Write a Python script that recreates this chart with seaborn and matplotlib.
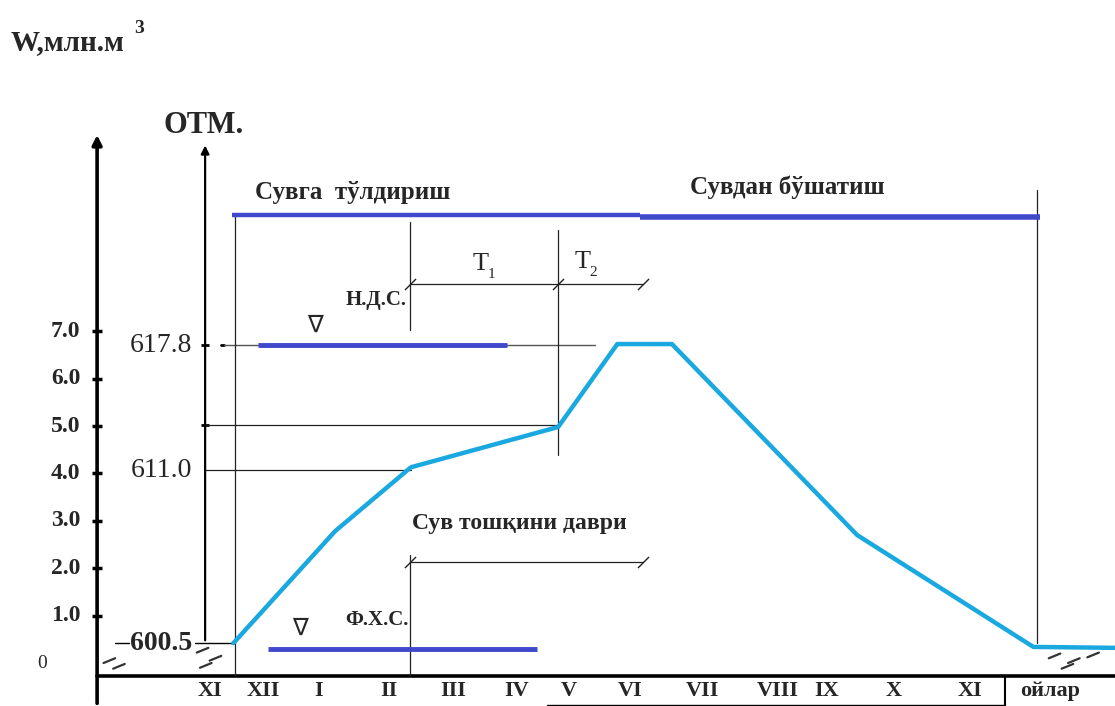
import matplotlib
matplotlib.use('Agg')
import matplotlib.pyplot as plt
import pandas as pd
import seaborn as sns

# --- data (time in months from the W axis, W in mln m3) ---
months = ['XI', 'XII', 'I', 'II', 'III', 'IV', 'V', 'VI', 'VII', 'VIII', 'IX', 'X', 'XI']
month_pos = [1.76, 2.58, 3.44, 4.53, 5.54, 6.53, 7.33, 8.29, 9.42, 10.59, 11.34, 12.38, 13.58]

w_ticks = [0, 1, 2, 3, 4, 5, 6, 7]
w_tick_labels = ['0', '1.0', '2.0', '3.0', '4.0', '5.0', '6.0', '7.0']

# reservoir volume curve
curve_t = [2.12, 3.70, 4.88, 7.17, 8.09, 8.94, 11.82, 14.56, 15.83]
curve_w = [0.42, 2.78, 4.13, 4.98, 6.73, 6.73, 2.70, 0.34, 0.32]

# water levels (ОТМ.) and the volume they correspond to
level_labels = ['600.5', '611.0', '617.8']
level_w = [0.42, 4.07, 6.71]
w_at_v = 5.02  # volume at the end of T1

# phase boundaries: fill start, flood start, T1/T2, fill end, release end
t_fill_start = 2.15
t_flood = 4.87
t_t1_end = 7.17
t_fill_end = 8.44
t_release_end = 14.62

BLUE = '#4048CC'
CYAN = '#1AA8E0'
SERIF = 'Liberation Serif'

sns.set_style('white')
plt.rcParams['font.family'] = [SERIF, 'DejaVu Serif']

fig = plt.figure(figsize=(11.15, 7.06), dpi=100)
ax = fig.add_axes([0, 0, 1, 1])
ax.set_xlim(-1.51, 15.83)
ax.set_ylim(-0.907, 13.99)
ax.axis('off')

def hline(y, x0, x1, **kw):
    ax.plot([x0, x1], [y, y], **kw)

def vline(x, y0, y1, **kw):
    ax.plot([x, x], [y0, y1], **kw)

thin = dict(color='#222222', lw=0.9)
y_base = -0.27
y_top = 9.45

# main W axis and OTM axis with arrows
ax.annotate('', xy=(0, 11.2), xytext=(0, -0.91),
            arrowprops=dict(arrowstyle='-|>', lw=2.6, color='black', mutation_scale=14))
ax.annotate('', xy=(1.68, 10.98), xytext=(1.68, level_w[0]),
            arrowprops=dict(arrowstyle='-|>', lw=1.6, color='black', mutation_scale=12))
hline(y_base, 0, 15.83, color='black', lw=2.6)

# W ticks and labels
ax.scatter([0] * len(w_ticks[1:]), w_ticks[1:], marker='_', s=60, color='black', lw=2.5, zorder=3)
for w, lab in zip(w_ticks, w_tick_labels):
    if lab == '0':
        ax.text(-0.85, w, lab, ha='center', va='center', fontsize=14)
    else:
        ax.text(-0.26, w, lab, ha='right', va='center', fontsize=17, fontweight='bold')

# level labels on the OTM axis
for lab, w in zip(level_labels, level_w):
    bold = lab == '600.5'
    ax.text(1.48, w, lab, ha='right', va='center', fontsize=20,
            fontweight='bold' if bold else 'normal')
ax.scatter([1.68, 1.68], [level_w[2], w_at_v], marker='_', s=40, color='black', lw=2)
hline(level_w[2], 1.92, 1.97, color='black', lw=2)
hline(level_w[0], 0.28, 0.5, color='black', lw=1)
hline(level_w[0], 1.52, t_fill_start, color='black', lw=1)

# horizontal guide lines
hline(w_at_v, 1.68, t_t1_end, **thin)
hline(level_w[1], 1.68, curve_t[2], **thin)
hline(level_w[2], 1.97, 7.74, color='#555555', lw=1)

# vertical guide lines
vline(t_fill_start, y_base, y_top, **thin)
vline(t_release_end, level_w[0], 9.98, **thin)
vline(t_flood, 7.03, 9.30, **thin)
vline(t_flood, y_base, 2.28, **thin)
vline(t_t1_end, 4.39, 9.14, **thin)

# dimension lines T1/T2 and flood period
slash = [(-1, -1), (1, 1)]
hline(8.0, t_flood, 8.49, **thin)
ax.plot([t_flood, t_t1_end, 8.49], [8.0] * 3, ls='none', marker=slash, ms=8, mew=1, color='#222222')
hline(2.13, t_flood, 8.49, **thin)
ax.plot([t_flood, 8.49], [2.13] * 2, ls='none', marker=slash, ms=8, mew=1, color='#222222')

# top phase bar
hline(y_top, 2.10, t_fill_end, color=BLUE, lw=3.2, solid_capstyle='butt')
hline(9.41, t_fill_end, 14.67, color=BLUE, lw=4.0, solid_capstyle='butt')

# НДС and ФХС levels
hline(level_w[2], 2.50, 6.38, color=BLUE, lw=3.5, solid_capstyle='butt')
hline(0.30, 2.66, 6.84, color=BLUE, lw=3.5, solid_capstyle='butt')

# ground hatch marks
for x0, y0 in [(0.1, 0.0), (0.25, -0.12), (1.55, 0.22), (1.75, 0.05), (1.6, -0.1),
               (14.8, 0.1), (15.1, 0.0), (15.4, 0.12), (15.0, -0.12)]:
    ax.plot([x0, x0 + 0.18], [y0, y0 + 0.1], color='#333333', lw=1.6)

# volume curve
df = pd.DataFrame({'t': curve_t, 'W': curve_w})
sns.lineplot(data=df, x='t', y='W', ax=ax, color='black', lw=1.2, sort=False)
sns.lineplot(data=df, x='t', y='W', ax=ax, color=CYAN, lw=3.2, sort=False)

# month labels and box
for m, p in zip(months, month_pos):
    ax.text(p, -0.6, m, ha='center', va='center', fontsize=16, fontweight='bold')
vline(14.12, -0.91, y_base, color='black', lw=1.5)
hline(-0.89, 7.0, 14.12, color='black', lw=1)
ax.text(14.82, -0.6, 'ойлар', ha='center', va='center', fontsize=16, fontweight='bold')

# texts
ax.text(-1.35, 13.1, 'W,млн.м', ha='left', va='center', fontsize=21, fontweight='bold')
ax.text(0.58, 13.38, '3', ha='left', va='center', fontsize=14, fontweight='bold')
ax.text(1.03, 11.35, 'ОТМ.', ha='left', va='center', fontsize=22, fontweight='bold')
ax.text(2.46, 9.92, 'Сувга  тўлдириш', ha='left', va='center', fontsize=18, fontweight='bold')
ax.text(9.22, 10.04, 'Сувдан бўшатиш', ha='left', va='center', fontsize=18, fontweight='bold')
ax.text(5.96, 8.42, 'T', ha='center', va='center', fontsize=19)
ax.text(6.14, 8.2, '1', ha='center', va='center', fontsize=11)
ax.text(7.55, 8.47, 'T', ha='center', va='center', fontsize=19)
ax.text(7.72, 8.25, '2', ha='center', va='center', fontsize=11)
ax.text(3.86, 7.66, 'Н.Д.С.', ha='left', va='center', fontsize=15, fontweight='bold')
ax.text(3.86, 0.91, 'Ф.Х.С.', ha='left', va='center', fontsize=15, fontweight='bold')
ax.text(4.90, 2.95, 'Сув тошқини даври', ha='left', va='center', fontsize=17, fontweight='bold')
ax.text(3.38, 7.13, '∇', ha='center', va='center', fontsize=17, family='DejaVu Sans')
ax.text(3.16, 0.74, '∇', ha='center', va='center', fontsize=17, family='DejaVu Sans')

fig.savefig('out.png', dpi=100)
